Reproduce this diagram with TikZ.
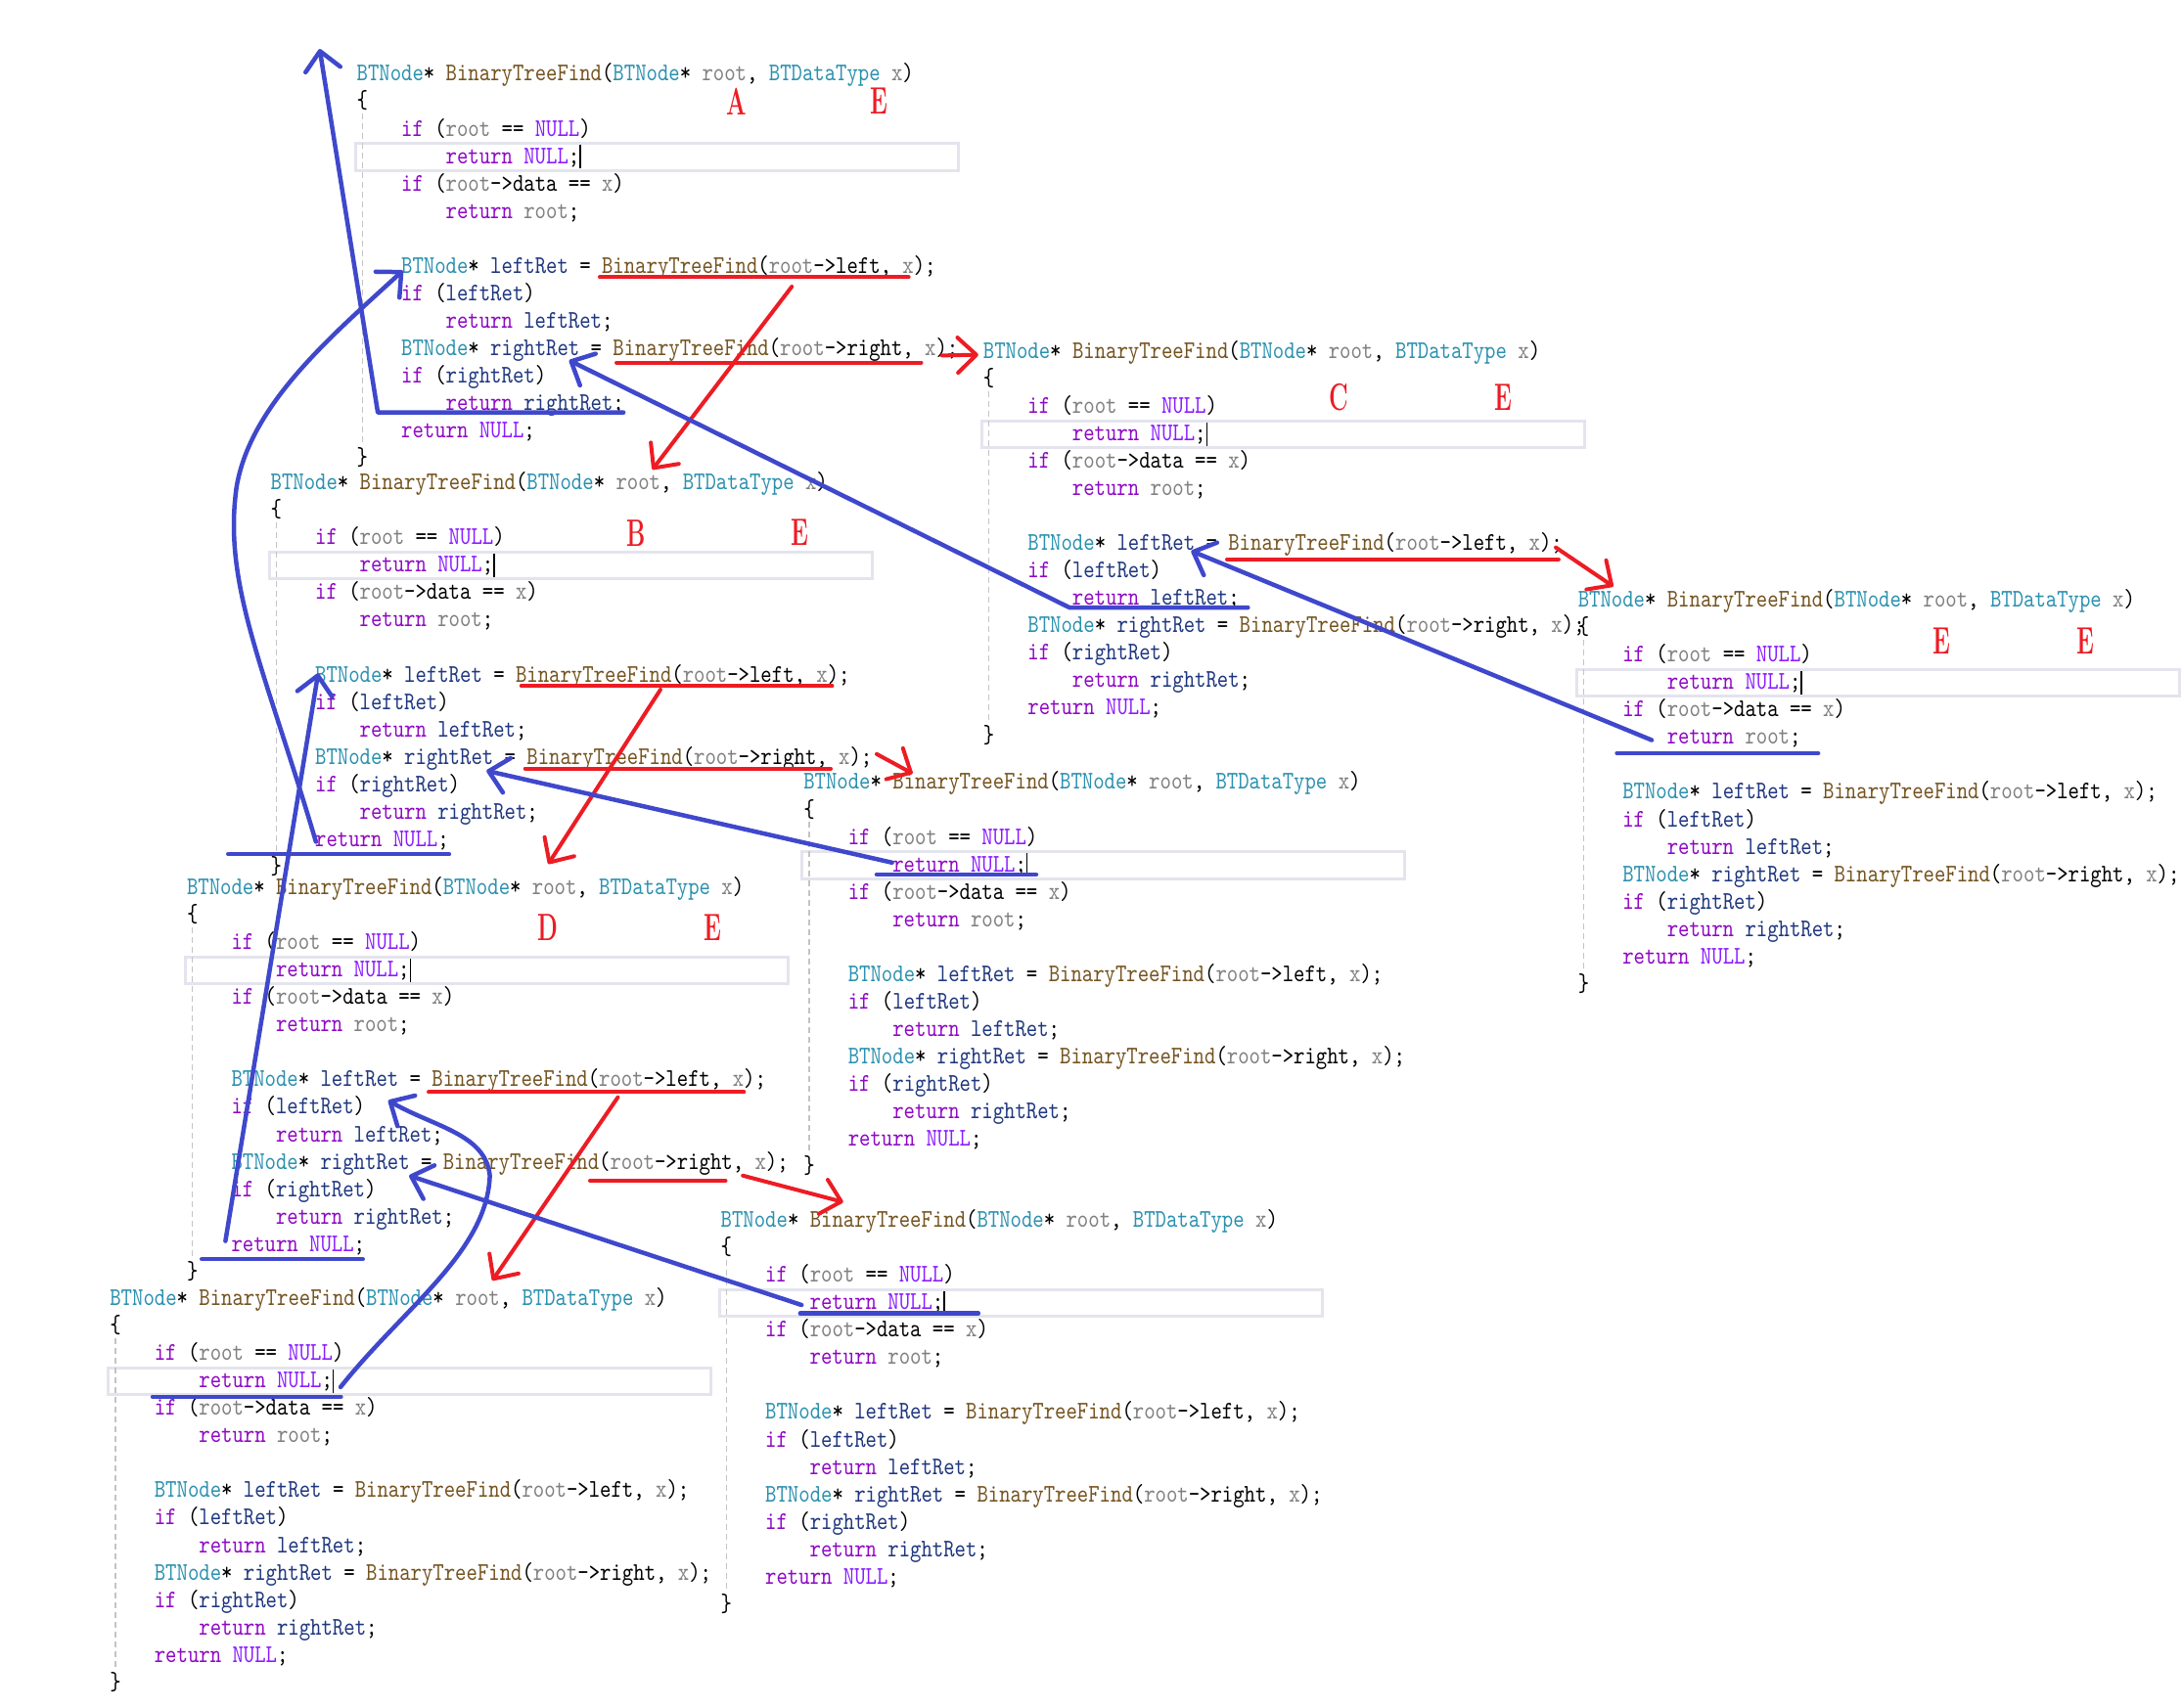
\documentclass[tikz,border=0pt]{standalone}
\usepackage{fontspec}
\usepackage{graphicx}
\usetikzlibrary{arrows.meta}
\newfontfamily\codefont{lmmono10-regular.otf}[FakeStretch=0.834]
\newcommand\cf{\codefont\fontsize{26pt}{28pt}\selectfont}
\definecolor{tyc}{HTML}{2B91AF}
\definecolor{fnc}{HTML}{74531F}
\definecolor{pac}{HTML}{808080}
\definecolor{loc}{HTML}{1F377F}
\definecolor{kwc}{HTML}{8F08C4}
\definecolor{nuc}{HTML}{8A1BFF}
\definecolor{hlc}{HTML}{E4E4EE}
\definecolor{gdc}{HTML}{C4C4C4}
\definecolor{pred}{HTML}{ED1C24}
\definecolor{pblue}{HTML}{3F48CC}
\newcommand\Ty[1]{\textcolor{tyc}{#1}}
\newcommand\Fn[1]{\textcolor{fnc}{#1}}
\newcommand\Pa[1]{\textcolor{pac}{#1}}
\newcommand\Lo[1]{\textcolor{loc}{#1}}
\newcommand\Kw[1]{\textcolor{kwc}{#1}}
\newcommand\Nu{\textcolor{nuc}{NULL}}
\newcommand\cblock[3]{%
\begin{scope}[shift={(#2,#3)}]
\draw[hlbox] (-1,50.6) rectangle (432,69.7);
\draw[guide] (4,29) -- (4,268);
\node[cline] (#1-0) at (0,5.6) {\Ty{BTNode}* \Fn{BinaryTreeFind}(\Ty{BTNode}* \Pa{root}, \Ty{BTDataType} \Pa{x})};
\node[cline] (#1-1) at (0,25.32) {\{};
\node[cline] (#1-2) at (32,45.04) {\Kw{if} (\Pa{root} == \Nu)};
\node[cline] (#1-3) at (64,64.76) {\Kw{return} \Nu;};
\node[cline] (#1-4) at (32,84.48) {\Kw{if} (\Pa{root}->data == \Pa{x})};
\node[cline] (#1-5) at (64,104.2) {\Kw{return} \Pa{root};};
\node[cline] (#1-7) at (32,143.64) {\Ty{BTNode}* \Lo{leftRet} = \Fn{BinaryTreeFind}(\Pa{root}->left, \Pa{x});};
\node[cline] (#1-8) at (32,163.36) {\Kw{if} (\Lo{leftRet})};
\node[cline] (#1-9) at (64,183.08) {\Kw{return} \Lo{leftRet};};
\node[cline] (#1-10) at (32,202.8) {\Ty{BTNode}* \Lo{rightRet} = \Fn{BinaryTreeFind}(\Pa{root}->right, \Pa{x});};
\node[cline] (#1-11) at (32,222.52) {\Kw{if} (\Lo{rightRet})};
\node[cline] (#1-12) at (64,242.24) {\Kw{return} \Lo{rightRet};};
\node[cline] (#1-13) at (32,261.96) {\Kw{return} \Nu;};
\node[cline] (#1-14) at (0,281.68) {\}};
\draw[cursor] (160.5,51.5) -- (160.5,68.5);
\end{scope}}
\begin{document}
\begin{tikzpicture}[x={(1.4222pt,0)}, y={(0,-1.4222pt)},
  cline/.style={anchor=base west, inner sep=0pt, outer sep=0pt, font=\cf},
  hlbox/.style={draw=hlc, line width=3pt},
  guide/.style={draw=gdc, line width=1.4pt, dash pattern=on 6pt off 4pt},
  cursor/.style={draw=black, line width=1.4pt},
  lbl/.style={text=pred, inner sep=0pt, font=\fontsize{39pt}{39pt}\selectfont\bfseries},
  bl/.style={draw=pblue, line width=4.5pt, line cap=round, line join=round},
  rd/.style={draw=pred, line width=4pt, line cap=round, line join=round},
  tip/.style={-{Straight Barb[length=19pt,width=36pt,round]}}]
\useasboundingbox[fill=white] (0,0) rectangle (1568,1227);

% code blocks
\cblock{A}{256.4}{52.7}
\cblock{C}{706.6}{252}
\cblock{B}{194.5}{346.5}
\cblock{E}{1134}{430.8}
\cblock{M}{577.5}{561.8}
\cblock{D}{134.3}{637.5}
\cblock{G}{518}{876.6}
\cblock{H}{79}{932.8}

% red labels
\node[lbl] (lA1) at (529.5,72.7) {\scalebox{0.62}[1]{A}};
\node[lbl] (lA2) at (632,72.7) {\scalebox{0.62}[1]{E}};
\node[lbl] (lC1) at (962,285.5) {\scalebox{0.62}[1]{C}};
\node[lbl] (lC2) at (1080,285.5) {\scalebox{0.62}[1]{E}};
\node[lbl] (lB1) at (457,383) {\scalebox{0.62}[1]{B}};
\node[lbl] (lB2) at (575,383) {\scalebox{0.62}[1]{E}};
\node[lbl] (lE1) at (1395.5,461) {\scalebox{0.62}[1]{E}};
\node[lbl] (lE2) at (1499,461) {\scalebox{0.62}[1]{E}};
\node[lbl] (lD1) at (394,667) {\scalebox{0.62}[1]{D}};
\node[lbl] (lD2) at (512,667) {\scalebox{0.62}[1]{E}};

% red calls
\coordinate (r1a) at (431,199.2); \coordinate (r1b) at (653,199.2);
\coordinate (r1c) at (569,206);   \coordinate (r1d) at (468.8,337.5);
\coordinate (r2a) at (443,260.6); \coordinate (r2b) at (662,260.6);
\coordinate (r2c) at (677,255.5); \coordinate (r2d) at (703,255);
\coordinate (r3a) at (881.7,402); \coordinate (r3b) at (1120,402);
\coordinate (r3c) at (1118,393.5); \coordinate (r3d) at (1159.3,421.5);
\coordinate (r4a) at (374.6,493); \coordinate (r4b) at (598,493);
\coordinate (r4c) at (474.6,495.7); \coordinate (r4d) at (394,621);
\coordinate (r5a) at (377.4,552.4); \coordinate (r5b) at (597,552.4);
\coordinate (r5c) at (630,542);   \coordinate (r5d) at (655.8,556);
\coordinate (r6a) at (308,785);   \coordinate (r6b) at (534.6,785);
\coordinate (r6c) at (444,788.7); \coordinate (r6d) at (353.8,920.4);
\coordinate (r7a) at (424,848.6); \coordinate (r7b) at (521.4,848.6);
\coordinate (r7c) at (533.8,845); \coordinate (r7d) at (605.9,864);
\foreach \i in {1,...,7}{
  \draw[rd] (r\i a) -- (r\i b);
  \draw[rd,tip] (r\i c) -- (r\i d);
}

% blue returns
\coordinate (bA1) at (448,296.5); \coordinate (bA2) at (271.5,296.5); \coordinate (bA3) at (229.7,35.2);
\draw[bl,tip] (bA1) -- (bA2) -- (bA3);

\coordinate (bC1) at (896.7,436.7); \coordinate (bC2) at (768.5,436.7); \coordinate (bC3) at (409,259);
\draw[bl,tip] (bC1) -- (bC2) -- (bC3);

\coordinate (bE1) at (1162,541.4); \coordinate (bE2) at (1306.5,541.4);
\coordinate (bE3) at (1187,532); \coordinate (bE4) at (856,396);
\draw[bl] (bE1) -- (bE2);
\draw[bl,tip] (bE3) -- (bE4);

\coordinate (bM1) at (630,628.6); \coordinate (bM2) at (744.6,628.6);
\coordinate (bM3) at (641,620); \coordinate (bM4) at (349.6,554);
\draw[bl] (bM1) -- (bM2);
\draw[bl,tip] (bM3) -- (bM4);

\coordinate (bG1) at (575,944); \coordinate (bG2) at (703,944);
\coordinate (bG3) at (576,938); \coordinate (bG4) at (294,845);
\draw[bl] (bG1) -- (bG2);
\draw[bl,tip] (bG3) -- (bG4);

\coordinate (bB1) at (164,614); \coordinate (bB2) at (322.7,614);
\coordinate (bB3) at (227,605); \coordinate (bB4) at (170,350); \coordinate (bB5) at (289.5,194.5);
\draw[bl] (bB1) -- (bB2);
\draw[bl,tip] (bB3) .. controls (190,480) and (160,420) .. (bB4) .. controls (180,290) and (240,240) .. (bB5);

\coordinate (bD1) at (145,905); \coordinate (bD2) at (260.7,905);
\coordinate (bD3) at (162,892); \coordinate (bD4) at (228.6,484);
\draw[bl] (bD1) -- (bD2);
\draw[bl,tip] (bD3) -- (bD4);

\coordinate (bH1) at (109.7,1003.9); \coordinate (bH2) at (245,1003.9);
\coordinate (bH3) at (244.7,997); \coordinate (bH4) at (352,845); \coordinate (bH5) at (279,791);
\draw[bl] (bH1) -- (bH2);
\draw[bl,tip] (bH3) .. controls (290,940) and (350,900) .. (bH4) .. controls (349,815) and (312,810) .. (bH5);
\end{tikzpicture}
\end{document}
